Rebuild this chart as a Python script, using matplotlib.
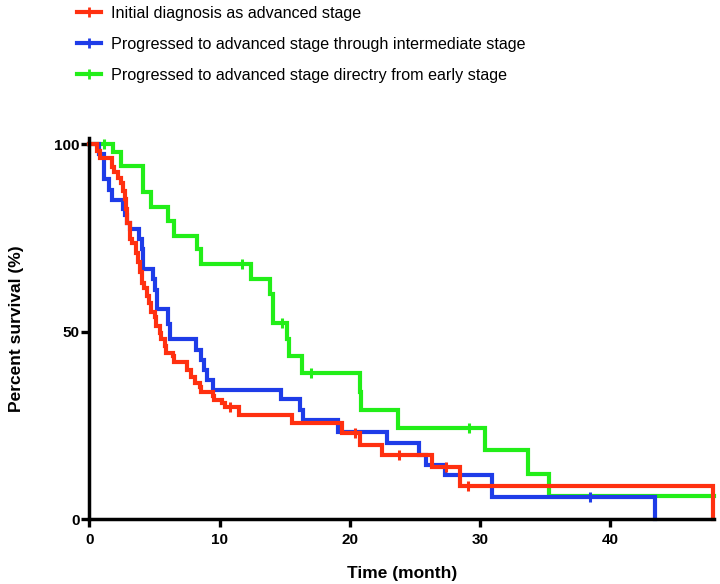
import matplotlib
matplotlib.use('Agg')
import matplotlib.pyplot as plt
from matplotlib.lines import Line2D

# Kaplan-Meier curves: month where survival changes, survival (%) after it
red_t = [0, 0.6, 0.8, 1.7, 1.9, 2.2, 2.4, 2.6, 2.7, 2.8, 2.9, 3.1, 3.3, 3.6, 3.7,
         3.85, 4.0, 4.2, 4.4, 4.6, 4.75, 5.0, 5.1, 5.4, 5.5, 5.8, 5.9, 6.4, 6.5,
         7.5, 7.8, 8.1, 8.5, 8.6, 9.5, 9.6, 10.2, 10.4, 11.5, 15.6, 19.4, 20.8,
         22.5, 26.3, 28.5, 47.9]
red_s = [100, 98.2, 96.4, 94.0, 92.5, 91.0, 89.5, 87.5, 85.3, 82.6, 79.0, 74.6,
         73.5, 71.0, 68.5, 66.0, 63.0, 61.5, 59.4, 57.7, 55.3, 53.8, 51.4, 49.5,
         48.0, 46.2, 44.4, 43.4, 42.0, 39.8, 38.0, 36.3, 35.2, 34.0, 32.8, 31.8,
         31.0, 30.0, 27.8, 25.7, 23.0, 19.8, 17.1, 13.9, 8.8, 0]
red_cens_t = [10.8, 20.4, 23.8, 27.4, 29.1]
red_cens_s = [30.0, 23.0, 17.1, 13.9, 8.8]

blue_t = [0, 0.75, 1.1, 1.5, 1.7, 2.6, 2.7, 2.9, 3.1, 3.8, 4.0, 4.1, 4.85, 5.0,
          5.15, 6.0, 6.2, 8.2, 8.6, 8.8, 9.0, 9.5, 14.7, 16.2, 16.4, 19.1, 22.9,
          25.3, 25.9, 27.3, 30.9, 43.5]
blue_s = [100, 97.3, 90.6, 87.8, 85.2, 82.6, 81.0, 79.0, 77.3, 74.6, 72.0, 66.8,
          64.0, 61.2, 56.0, 52.0, 47.9, 45.2, 42.5, 39.8, 37.2, 34.5, 32.0, 29.1,
          26.5, 23.3, 20.3, 17.1, 14.4, 11.8, 5.9, 0]
blue_cens_t = [38.5]
blue_cens_s = [5.9]

green_t = [0, 1.8, 2.4, 4.1, 4.75, 6.0, 6.5, 8.3, 8.6, 12.4, 13.85, 14.1, 15.2,
           15.3, 16.3, 20.8, 20.9, 23.7, 30.4, 33.7, 35.3, 48]
green_s = [100, 97.8, 94.2, 87.1, 83.1, 79.5, 75.5, 71.9, 67.9, 63.9, 60.0, 52.4,
           47.9, 43.4, 39.0, 34.0, 29.1, 24.3, 18.4, 12.0, 6.1, 6.1]
green_cens_t = [1.1, 11.7, 14.8, 17.0, 29.2]
green_cens_s = [100, 67.9, 52.4, 39.0, 24.3]

labels = ['Initial diagnosis as advanced stage',
          'Progressed to advanced stage through intermediate stage',
          'Progressed to advanced stage directry from early stage']
colors = ['#FF3010', '#1E3CE8', '#22EE18']

fig = plt.figure(figsize=(7.2, 5.84), dpi=100)
ax = fig.add_axes([0.1243, 0.1113, 0.8674, 0.6517])

series = [(green_t, green_s, green_cens_t, green_cens_s, colors[2]),
          (blue_t, blue_s, blue_cens_t, blue_cens_s, colors[1]),
          (red_t, red_s, red_cens_t, red_cens_s, colors[0])]
for t, s, ct, cs, c in series:
    ax.step(t, s, where='post', color=c, lw=3, clip_on=False, solid_joinstyle='miter')
    ax.plot(ct, cs, ls='none', marker='|', color=c, ms=7, mew=2.2, clip_on=False)

ax.set_xlim(0, 48)
ax.set_ylim(0, 101.5)
ax.set_xticks([0, 10, 20, 30, 40])
ax.set_yticks([0, 50, 100])
for side in ['top', 'right']:
    ax.spines[side].set_visible(False)
for side in ['left', 'bottom']:
    ax.spines[side].set_linewidth(2.5)
ax.tick_params(width=2.4, length=6, labelsize=11)
ax.tick_params(axis='y', pad=1)
ax.tick_params(axis='x', pad=4)
for lab in ax.get_xticklabels() + ax.get_yticklabels():
    lab.set_fontweight('bold')
    lab.set_fontfamily('Liberation Sans')

ax.set_xlabel('Time (month)', fontsize=12.5, fontweight='bold', family='Liberation Sans', labelpad=14)
ax.set_ylabel('Percent survival (%)', fontsize=12.5, fontweight='bold', family='Liberation Sans', labelpad=22)

handles = [Line2D([], [], color=c, lw=3, marker='|', ms=7, mew=2) for c in colors]
fig.legend(handles, labels, loc='upper left', bbox_to_anchor=(0.107, 0.99),
           frameon=False, borderpad=0, borderaxespad=0, handlelength=1.5,
           handletextpad=0.6, labelspacing=1.0,
           prop={'family': 'Liberation Sans', 'size': 11.6})

fig.savefig('out.png', dpi=100)
